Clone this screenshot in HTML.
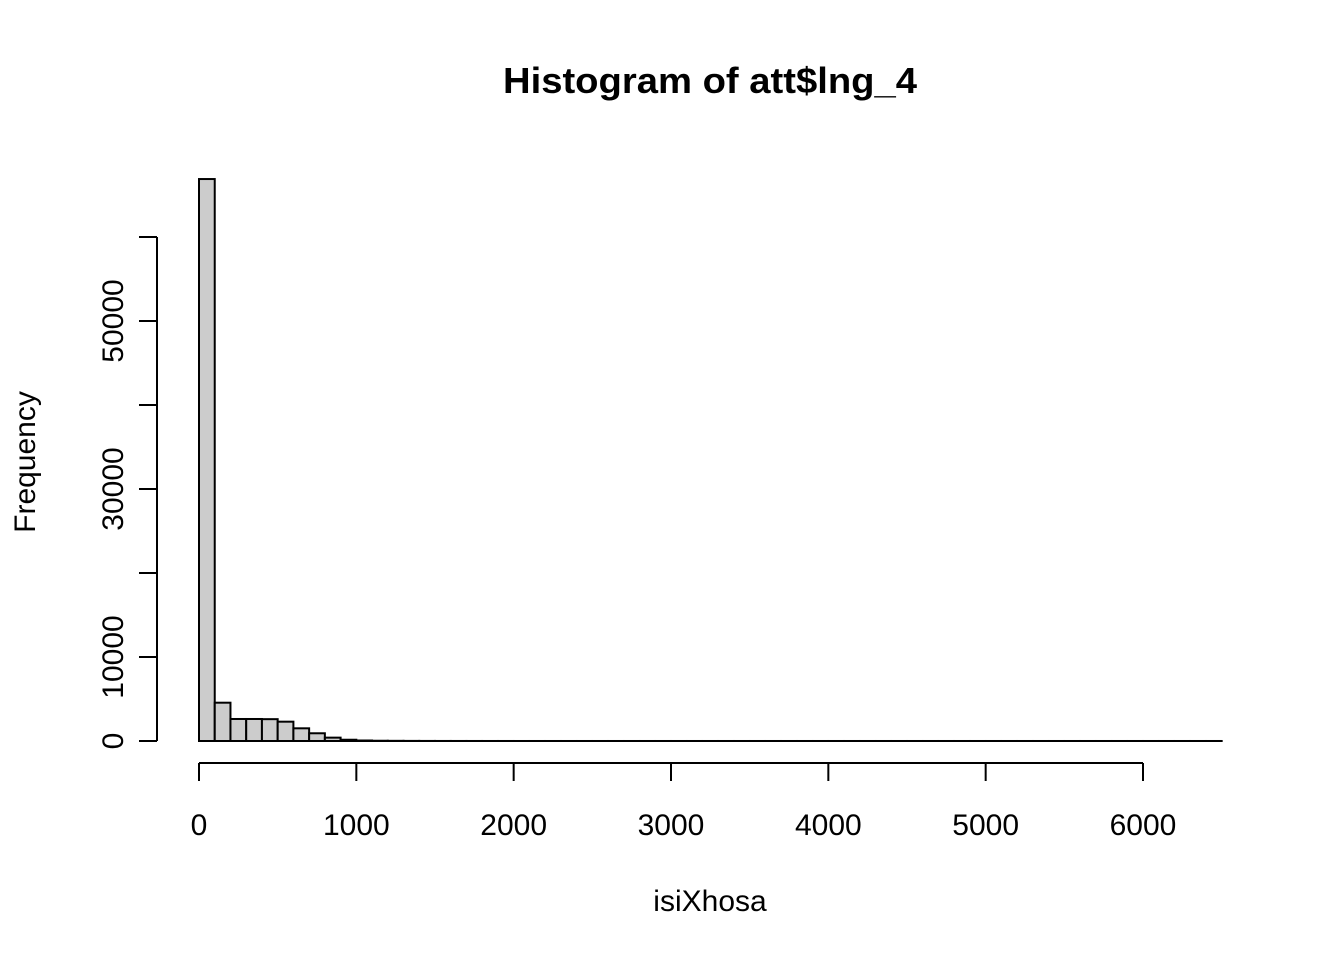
<!DOCTYPE html>
<html><head><meta charset="utf-8"><style>
body{margin:0;background:#fff}
svg text{font-family:"Liberation Sans",Arial,sans-serif;fill:#000}
</style></head><body>
<svg id="chart" width="1344" height="960">
<text x="710" y="93" text-anchor="middle" font-size="36" font-weight="bold" textLength="414" lengthAdjust="spacingAndGlyphs">Histogram of att$lng_4</text>
<text x="710" y="911" text-anchor="middle" font-size="30">isiXhosa</text>
<text transform="translate(35,462) rotate(-90)" text-anchor="middle" font-size="30">Frequency</text>
<g id="bars"></g><g id="xaxis"></g><g id="yaxis"></g>
</svg>
<script>
const binWidth = 100;
const counts = [66900,4560,2620,2620,2600,2300,1510,920,400,150,60,30,20,12,8,5,4,3,2,2,1,1,1,1,1,1,1,1,1,1,1,1,1,1,1,1,1,1,1,1,1,1,1,1,1,1,1,1,1,1,1,1,1,1,1,1,1,1,1,1,1,1,1,1,1];
const xTicks = [0,1000,2000,3000,4000,5000,6000];
const yTicks = [0,10000,20000,30000,40000,50000,60000];
const yLabels = ["0","10000","","30000","","50000",""];
const NS="http://www.w3.org/2000/svg";
const xs = v => 199 + v*(1143-199)/6000;
const ys = v => 741 - v*(741-237)/60000;
function mk(t,a,p){const e=document.createElementNS(NS,t);for(const k in a)e.setAttribute(k,a[k]);p.appendChild(e);return e;}
const bars=document.getElementById('bars');
counts.forEach((c,i)=>{
  const r=mk('rect',{x:xs(i*binWidth),y:ys(c),width:xs((i+1)*binWidth)-xs(i*binWidth),height:ys(0)-ys(c),fill:'#cccccc',stroke:'#000','stroke-width':2},bars);
  
  
});
const xa=document.getElementById('xaxis');
mk('line',{x1:xs(0),x2:xs(6000),y1:763,y2:763,stroke:'#000','stroke-width':2},xa);
xTicks.forEach(t=>{
  mk('line',{x1:xs(t),x2:xs(t),y1:763,y2:781,stroke:'#000','stroke-width':2},xa);
  const tx=mk('text',{x:xs(t),y:835,'text-anchor':'middle','font-size':30},xa);
  tx.textContent=t;
  
  
});
const ya=document.getElementById('yaxis');
mk('line',{x1:157,x2:157,y1:ys(0),y2:ys(60000),stroke:'#000','stroke-width':2},ya);
yTicks.forEach((t,i)=>{
  mk('line',{x1:139,x2:157,y1:ys(t),y2:ys(t),stroke:'#000','stroke-width':2},ya);
  if(yLabels[i]){
    const tx=mk('text',{x:0,y:0,'text-anchor':'middle','font-size':30,transform:`translate(123,${ys(t)}) rotate(-90)`},ya);
    tx.textContent=yLabels[i];
    
    
  }
});
</script>
</body></html>
